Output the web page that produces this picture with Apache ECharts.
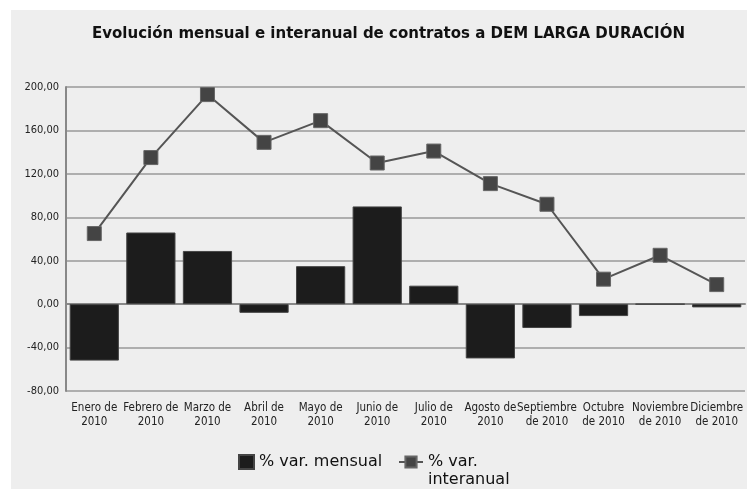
<!DOCTYPE html>
<html>
<head>
<meta charset="utf-8">
<script src="https://cdn.jsdelivr.net/npm/echarts@6/dist/echarts.min.js"></script>
<style>
  html, body { margin: 0; padding: 0; background: #ffffff; }
  #chart { position: absolute; left: 11px; top: 10px; width: 736px; height: 479px; background: #eeeeee; }
</style>
</head>
<body>
<div id="chart"></div>
<script>
  // meses
  var categories = ['Enero de\n2010', 'Febrero de\n2010', 'Marzo de\n2010', 'Abril de\n2010', 'Mayo de\n2010', 'Junio de\n2010',
    'Julio de\n2010', 'Agosto de\n2010', 'Septiembre\nde 2010', 'Octubre\nde 2010', 'Noviembre\nde 2010', 'Diciembre\nde 2010'];
  // % var. mensual (barras)
  var varMensual = [-52, 66, 49, -8, 35, 90, 17, -50, -22, -11, 0, -3];
  // % var. interanual (linea)
  var varInteranual = [65, 135, 193, 149, 169, 130, 141, 111, 92, 23, 45, 18];
  var yTicks = { min: -80, max: 200, interval: 40 };
  var lineName = '% var.\ninteranual';

  var myChart = echarts.init(document.getElementById('chart'));
  var option = {
    backgroundColor: '#eeeeee',
    title: {
      text: 'Evolución mensual e interanual de contratos a DEM LARGA DURACIÓN',
      left: 76,
      top: 12,
      textStyle: { fontFamily: 'DejaVu Sans', fontWeight: 'bold', fontSize: 15, color: '#111' }
    },
    grid: { left: 55, right: 2, top: 77, bottom: 98 },
    legend: [
      {
        top: 439,
        left: 222,
        itemWidth: 15,
        itemHeight: 14,
        textStyle: { fontFamily: 'DejaVu Sans', fontSize: 16, color: '#111' },
        data: [{ name: '% var. mensual', icon: 'rect' }]
      },
      {
        top: 439,
        left: 382,
        itemWidth: 24,
        itemHeight: 14,
        textStyle: { fontFamily: 'DejaVu Sans', fontSize: 16, color: '#111' },
        // la segunda linea del nombre se pinta aparte, debajo
        formatter: function (name) { return name.split('\n')[0]; },
        data: [{ name: lineName }]
      }
    ],
    graphic: [{
      type: 'text',
      left: 417,
      top: 462,
      style: { text: lineName.split('\n')[1], font: '16px "DejaVu Sans"', fill: '#111' }
    }],
    xAxis: {
      type: 'category',
      data: categories,
      axisLine: { show: true, lineStyle: { color: '#888', width: 2 } },
      axisTick: { show: false },
      axisLabel: {
        interval: 0,
        fontFamily: 'DejaVu Sans Condensed',
        fontSize: 11.5,
        color: '#222',
        lineHeight: 14,
        margin: 10
      }
    },
    yAxis: {
      type: 'value',
      min: yTicks.min,
      max: yTicks.max,
      interval: yTicks.interval,
      axisLine: { show: true, lineStyle: { color: '#888', width: 2 } },
      axisTick: { show: false },
      axisLabel: {
        fontFamily: 'DejaVu Sans Condensed',
        fontSize: 11,
        color: '#222',
        margin: 7,
        formatter: function (v) { return v.toFixed(2).replace('.', ','); }
      },
      splitLine: { show: true, lineStyle: { color: '#999', width: 1.5 } }
    },
    series: [
      {
        name: '% var. mensual',
        type: 'bar',
        data: varMensual,
        barCategoryGap: '13%',
        itemStyle: { color: '#1c1c1c', borderColor: '#444', borderWidth: 1 }
      },
      {
        name: lineName,
        type: 'line',
        data: varInteranual,
        symbol: 'rect',
        symbolSize: 14,
        lineStyle: { color: '#555', width: 2 },
        itemStyle: { color: '#444', borderColor: '#666', borderWidth: 1 }
      }
    ]
  };
  myChart.setOption(option);
</script>
</body>
</html>
